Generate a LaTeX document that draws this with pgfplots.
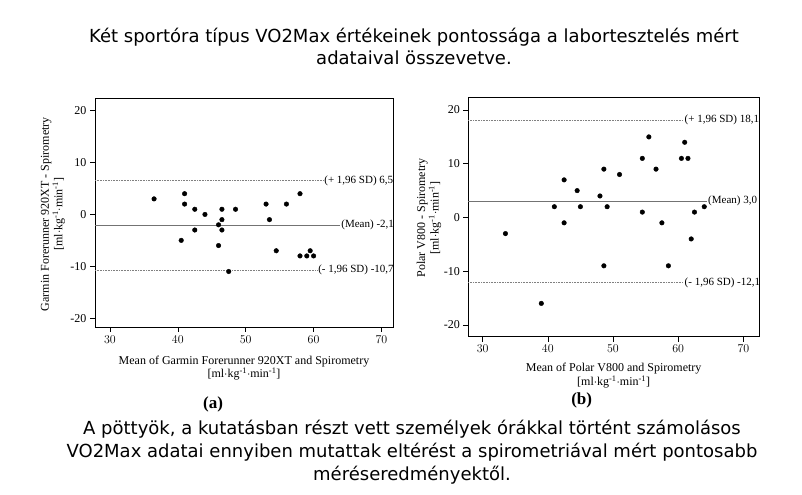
\documentclass[border=0pt]{standalone}
\usepackage{fontspec}
\setmainfont{Liberation Serif}
\newfontfamily\titlefont{DejaVu Sans}
\usepackage{pgfplots}
\pgfplotsset{compat=1.18}

\newcommand{\unit}{[ml$\cdot$kg\textsuperscript{-1}$\cdot$min\textsuperscript{-1}]}

\pgfplotsset{
  ba/.style={
    scale only axis,
    clip=false,
    tick align=outside, tick pos=left,
    major tick length=5bp,
    xtick={30,40,50,60,70},
    ytick={-20,-10,0,10,20},
    yticklabels={-20,-10,0,10,20},
    ticklabel style={font=\fontsize{12bp}{14bp}\selectfont},
    every tick/.style={black, line width=0.6pt},
    axis line style={line width=0.6pt},
    every axis x label/.style={at={(rel axis cs:0.5,0)}, anchor=center, yshift=-41bp,
      align=center, font=\fontsize{12bp}{12bp}\selectfont},
  },
  sdline/.style={black!50, line width=0.6pt, dash pattern=on 0.8pt off 0.8pt},
  mline/.style={black!55, line width=0.7pt},
  dots/.style={only marks, mark=*, mark size=2.3bp, black},
}
\tikzset{
  lab/.style={pos=1, anchor=west, inner sep=1bp, black, font=\fontsize{11bp}{13bp}\selectfont},
}

\begin{document}
\begin{tikzpicture}
\path[use as bounding box] (0,0) rectangle (802bp,495bp);

\node[font=\titlefont\fontsize{18bp}{22bp}\selectfont, align=center] at (414bp,449bp)
  {Két sportóra típus VO2Max értékeinek pontossága a labortesztelés mért\\adataival összevetve.};

% (a) Garmin
\begin{axis}[ba,
  at={(95bp,168bp)}, anchor=south west,
  width=298bp, height=229bp,
  xmin=27.8, xmax=71.7, ymin=-21.7, ymax=22.45,
  xlabel={Mean of Garmin Forerunner 920XT and Spirometry\\\unit},
  ylabel={Garmin Forerunner 920XT - Spirometry\\\unit},
  every axis y label/.style={at={(rel axis cs:-0.141,0.493)}, rotate=90, anchor=center,
    align=center, font=\fontsize{12bp}{11bp}\selectfont},
]
\addplot[sdline] coordinates {(27.8,6.5) (61.4,6.5)} node[lab] {(+ 1,96 SD) 6,5};
\addplot[mline] coordinates {(27.8,-2.1) (63.9,-2.1)} node[lab] {(Mean) -2,1};
\addplot[sdline] coordinates {(27.8,-10.7) (60.5,-10.7)} node[lab] {(- 1,96 SD) -10,7};
\addplot[dots] coordinates {
  (36.5,3) (41.0,4) (41.0,2) (42.5,1) (44.0,0) (40.5,-5) (42.5,-3) (46.0,-2)
  (46.5,1) (46.5,-1) (46.5,-3) (46.0,-6) (47.5,-11) (48.5,1) (53.0,2) (53.5,-1)
  (54.5,-7) (56.0,2) (58.0,4) (58.0,-8) (59.0,-8) (59.5,-7) (60.0,-8)
};
\node[font=\bfseries\fontsize{17bp}{19bp}\selectfont] at (rel axis cs:0.396,0) [yshift=-77bp] {(a)};
\end{axis}

% (b) Polar
\begin{axis}[ba,
  at={(468.3bp,158.3bp)}, anchor=south west,
  width=290.7bp, height=239bp,
  xmin=27.8, xmax=72.4, ymin=-22.2, ymax=22.3,
  every axis x label/.append style={yshift=2bp},
  xlabel={Mean of Polar V800 and Spirometry\\\unit},
  ylabel={Polar V800 - Spirometry\\\unit},
  every axis y label/.style={at={(rel axis cs:-0.135,0.497)}, rotate=90, anchor=center,
    align=center, font=\fontsize{12bp}{10.5bp}\selectfont},
]
\addplot[sdline] coordinates {(27.8,18.1) (60.8,18.1)} node[lab] {(+ 1,96 SD) 18,1};
\addplot[mline] coordinates {(27.8,3.0) (64.4,3.0)} node[lab] {(Mean) 3,0};
\addplot[sdline] coordinates {(27.8,-12.1) (60.8,-12.1)} node[lab] {(- 1,96 SD) -12,1};
\addplot[dots] coordinates {
  (33.5,-3) (39.0,-16) (41.0,2) (42.5,7) (42.5,-1) (44.5,5) (45.0,2) (48.0,4)
  (48.6,9) (48.6,-9) (49.1,2) (51.0,8) (54.5,11) (54.5,1) (55.5,15) (56.6,9)
  (57.5,-1) (58.5,-9) (60.5,11) (61.0,14) (61.5,11) (62.0,-4) (62.5,1) (64.0,2)
};
\node[font=\bfseries\fontsize{17bp}{19bp}\selectfont] at (rel axis cs:0.39,0) [yshift=-64bp] {(b)};
\end{axis}

\node[font=\titlefont\fontsize{18bp}{23bp}\selectfont, align=center] at (412bp,43bp)
  {A pöttyök, a kutatásban részt vett személyek órákkal történt számolásos\\
   VO2Max adatai ennyiben mutattak eltérést a spirometriával mért pontosabb\\
   méréseredményektől.};
\end{tikzpicture}
\end{document}
